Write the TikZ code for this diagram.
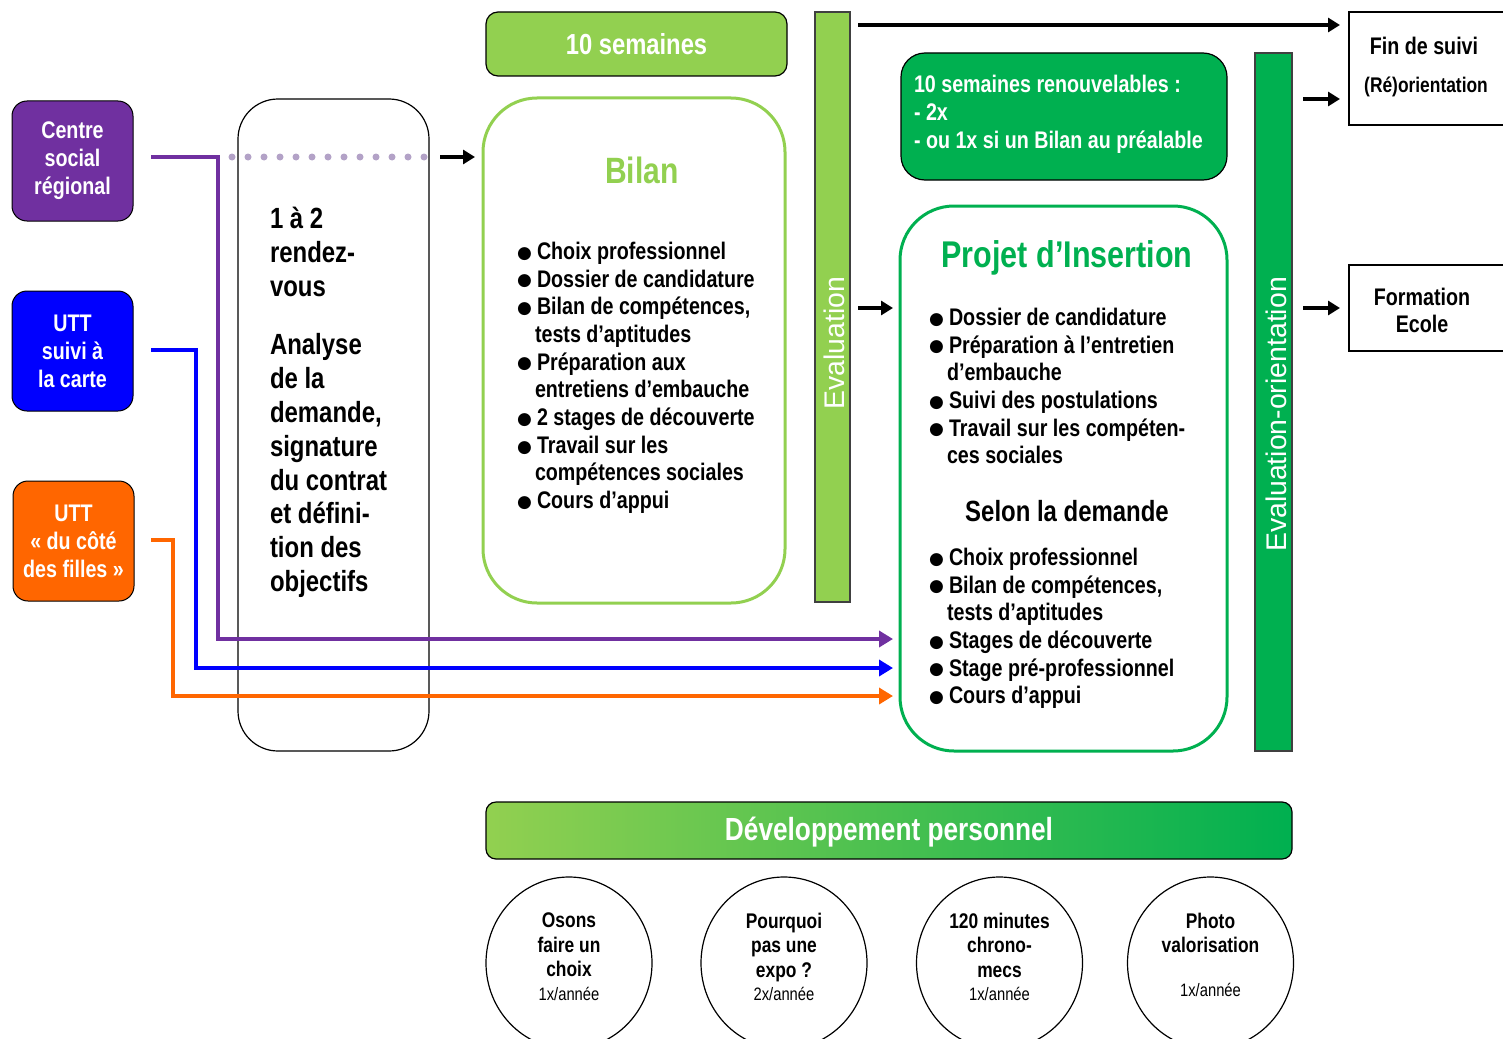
\documentclass[tikz,border=0pt]{standalone}
\usepackage{fontspec}
\setmainfont{Liberation Sans}[FakeStretch=0.82]
\newfontfamily\widefont{Liberation Sans}
\newfontfamily\symfont{DejaVu Sans}
\usetikzlibrary{arrows.meta,shapes.geometric,calc}
\definecolor{lgreen}{HTML}{92D050}
\definecolor{dgreen}{HTML}{00B050}
\definecolor{cpurple}{HTML}{7030A0}
\definecolor{cblue}{HTML}{0000FF}
\definecolor{corange}{HTML}{FF6600}
\definecolor{dotpurple}{HTML}{B3A2C7}
\newcommand\bul{\makebox[10pt][l]{\raisebox{0.6pt}{\symfont\fontsize{8.5}{8}\selectfont ●}}}
\newcommand\ind{\hspace*{9pt}}
\tikzset{
 srcbox/.style={draw=black, line width=0.5pt, rounded corners=7.5pt, minimum width=60.5pt, minimum height=60pt, text=white, align=center, font=\fontsize{12}{14}\selectfont\bfseries},
 blackarrow/.style={line width=2pt, -{Triangle[length=6pt,width=7pt]}},
 colline/.style={line width=2.2pt, -{Triangle[length=7pt,width=8pt]}},
 listtext/.style={anchor=north west, align=left, font=\fontsize{12}{13.85}\selectfont\bfseries},
 barbox/.style={draw=black!75, line width=0.6pt},
 rbox/.style={draw=black, line width=0.6pt, fill=white},
 circ/.style={draw, ellipse, line width=0.6pt, minimum width=83pt, minimum height=86pt},
 circtext/.style={anchor=north, align=center, font=\fontsize{10.6}{12.25}\selectfont\bfseries},
 vlabel/.style={rotate=90, text=white, font=\widefont\fontsize{14.2}{16}\selectfont},
}
\begin{document}
\begin{tikzpicture}[x=0.5pt,y=-0.5pt, every node/.style={inner sep=0pt, outer sep=0pt}]
\fill[white] (0,0) rectangle (1503,1038);
\useasboundingbox (0,0) rectangle (1503,1038);

% source boxes
\node[srcbox, fill=cpurple] (csr) at (72.5,161) {Centre\\social\\régional};
\node[srcbox, fill=cblue] (utt) at (72.5,351) {UTT\\suivi à\\la carte};
\node[srcbox, fill=corange] (uttf) at (73.5,541) {UTT\\« du côté\\des filles »};

% rendez-vous box
\node[draw, line width=0.6pt, rounded corners=20pt, minimum width=95.5pt, minimum height=326pt] (rdv) at (333.5,425) {};
\node[anchor=north west, align=left, font=\fontsize{14.6}{16.9}\selectfont\bfseries] (rdvtext) at (270,207)
 {1 à 2\\rendez-\\vous\\[12.5pt]Analyse\\de la\\demande,\\signature\\du contrat\\et défini-\\tion des\\objectifs};

% 10 semaines
\node[draw, line width=0.6pt, fill=lgreen, rounded corners=6pt, minimum width=150.5pt, minimum height=32pt, text=white, font=\fontsize{14.5}{16}\selectfont\bfseries] (dix) at (636.5,44) {10 semaines};

% Bilan
\node[draw=lgreen, line width=1.5pt, rounded corners=27pt, minimum width=151pt, minimum height=252.5pt] (bilan) at (634,350.5) {};
\node[text=lgreen, font=\fontsize{18.3}{20}\selectfont\bfseries] (bilantitle) at (642,170) {Bilan};
\node[listtext] (bilanlist) at (517,242) {\bul Choix professionnel\\\bul Dossier de candidature\\\bul Bilan de compétences,\\\ind tests d’aptitudes\\\bul Préparation aux\\\ind entretiens d’embauche\\\bul 2 stages de découverte\\\bul Travail sur les\\\ind compétences sociales\\\bul Cours d’appui};

% Evaluation bar
\node[barbox, fill=lgreen, minimum width=17.5pt, minimum height=295pt] (eval) at (832.5,307) {};
\node[vlabel] (evaltext) at (834,343) {Evaluation};

% renouvelables
\node[draw, line width=0.6pt, fill=dgreen, rounded corners=12pt, minimum width=163pt, minimum height=63.5pt] (renouv) at (1064,116.5) {};
\node[anchor=north west, align=left, text=white, font=\fontsize{12}{14}\selectfont\bfseries] (renouvtext) at (914,75)
 {10 semaines renouvelables :\\- 2x\\- ou 1x si un Bilan au préalable};

% Projet
\node[draw=dgreen, line width=1.5pt, rounded corners=27pt, minimum width=163.5pt, minimum height=272.5pt] (projet) at (1063.5,478.5) {};
\node[text=dgreen, font=\fontsize{18.6}{20}\selectfont\bfseries] (projettitle) at (1067,258) {Projet d’Insertion};
\node[listtext] (projetlist) at (929,308) {\bul Dossier de candidature\\\bul Préparation à l’entretien\\\ind d’embauche\\\bul Suivi des postulations\\\bul Travail sur les compéten-\\\ind ces sociales};
\node[font=\fontsize{14.6}{16}\selectfont\bfseries] (selon) at (1067,511) {Selon la demande};
\node[listtext] (selonlist) at (929,548) {\bul Choix professionnel\\\bul Bilan de compétences,\\\ind tests d’aptitudes\\\bul Stages de découverte\\\bul Stage pré-professionnel\\\bul Cours d’appui};

% Evaluation-orientation bar
\node[barbox, fill=dgreen, minimum width=18.5pt, minimum height=349pt] (evalor) at (1273.5,402) {};
\node[vlabel] (evalortext) at (1276,414.5) {Evaluation-orientation};

% right boxes
\node[rbox, minimum width=80.5pt, minimum height=56.5pt] (fin) at (1429.5,68.5) {};
\node[font=\fontsize{12}{14}\selectfont\bfseries] (fintext) at (1424,46) {Fin de suivi};
\node[font=\fontsize{10.6}{12}\selectfont\bfseries] (reorient) at (1426,87) {(Ré)orientation};
\node[rbox, minimum width=80.5pt, minimum height=43pt] (form) at (1429.5,308) {};
\node[align=center, font=\fontsize{12}{13.5}\selectfont\bfseries] (formtext) at (1422,310) {Formation\\Ecole};

% black arrows
\coordinate (a0) at (858,25);
\coordinate (a1) at (440,157);
\coordinate (a2) at (858,308);
\coordinate (a3) at (1303,99);
\coordinate (a4) at (1303,308);
\draw[blackarrow, shorten >=4.5pt] (a0) -- (fin.west |- a0);
\draw[blackarrow, shorten >=4pt] (a1) -- (bilan.west |- a1);
\draw[blackarrow, shorten >=3.5pt] (a2) -- (projet.west |- a2);
\draw[blackarrow, shorten >=4.5pt] (a3) -- (fin.west |- a3);
\draw[blackarrow, shorten >=4.5pt] (a4) -- (form.west |- a4);

% coloured connectors
\coordinate (p0) at (151,157); \coordinate (p1) at (218,639);
\coordinate (b0) at (151,350); \coordinate (b1) at (196,668);
\coordinate (o0) at (151,540); \coordinate (o1) at (173,696);
\draw[colline, draw=cpurple, shorten >=3.5pt] (p0) -| (p1) -- (projet.west |- p1);
\draw[colline, draw=cblue, shorten >=3.5pt] (b0) -| (b1) -- (projet.west |- b1);
\draw[colline, draw=corange, shorten >=3.5pt] (o0) -| (o1) -- (projet.west |- o1);
\coordinate (d0) at (232,157); \coordinate (d1) at (425,157);
\draw[dotpurple, line width=3.5pt, line cap=round, dash pattern=on 0pt off 8pt] (d0) -- (d1);

% Developpement personnel
\node[draw, line width=0.6pt, rounded corners=5pt, left color=lgreen, right color=dgreen, minimum width=403pt, minimum height=28.5pt] (dev) at (889,830.5) {};
\node[text=white, font=\fontsize{16}{18}\selectfont\bfseries] (devtext) at (889,832) {Développement personnel};

% circles
\node[circ] (c1) at (569,963) {};
\node[circ] (c2) at (784,963) {};
\node[circ] (c3) at (999.5,963) {};
\node[circ] (c4) at (1210.5,963) {};
\node[circtext] (t1) at (569,913) {Osons\\faire un\\choix\\[-0.5pt]{\fontsize{9}{11}\selectfont\mdseries 1x/année}};
\node[circtext] (t2) at (784,913) {Pourquoi\\pas une\\expo ?\\[-0.5pt]{\fontsize{9}{11}\selectfont\mdseries 2x/année}};
\node[circtext] (t3) at (999.5,913) {120 minutes\\chrono-\\mecs\\[-0.5pt]{\fontsize{9}{11}\selectfont\mdseries 1x/année}};
\node[circtext] (t4) at (1210.5,913) {Photo\\valorisation\\[9.5pt]{\fontsize{9}{11}\selectfont\mdseries 1x/année}};
\end{tikzpicture}
\end{document}
